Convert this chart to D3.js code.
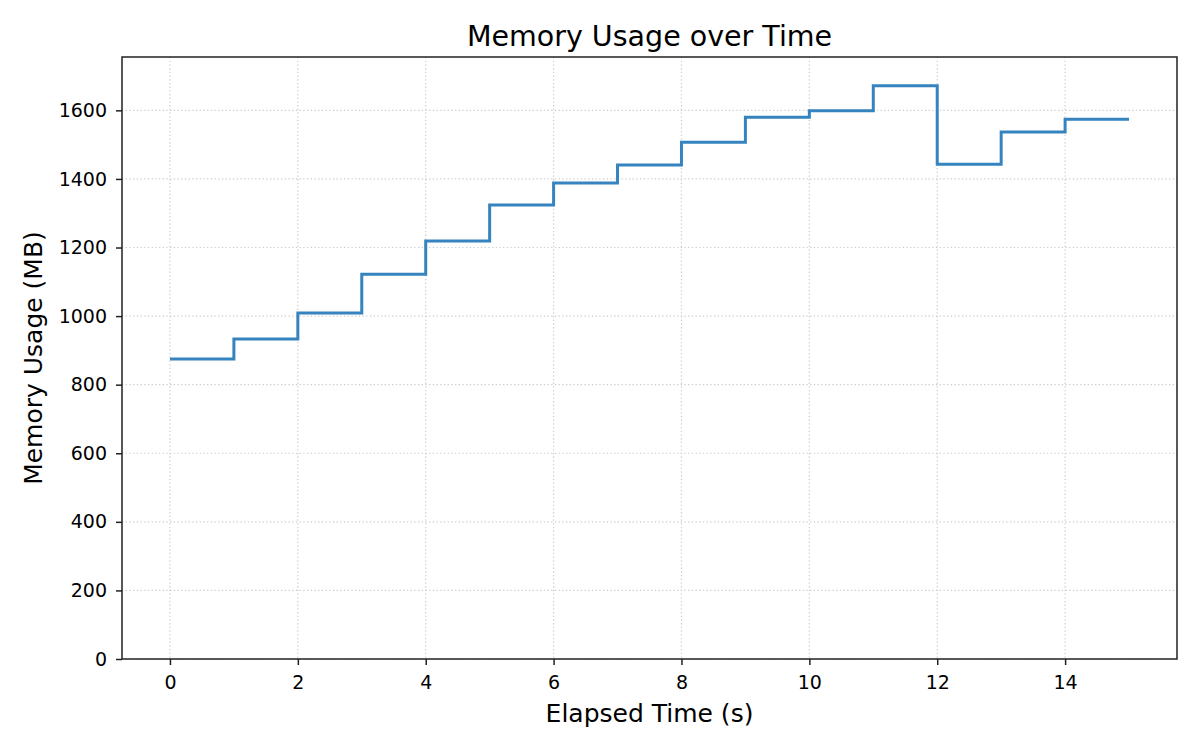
<!DOCTYPE html>
<html>
<head>
<meta charset="utf-8">
<script src="https://cdn.jsdelivr.net/npm/d3@7"></script>
<style>
  body { margin: 0; background: #fff; }
  svg text { font-family: "DejaVu Sans", sans-serif; fill: #000; }
</style>
</head>
<body>
<div id="chart"></div>
<script>
// elapsed seconds and memory readings (MB)
var seconds = [0, 1, 2, 3, 4, 5, 6, 7, 8, 9, 10, 11, 12, 13, 14, 15];
var memoryMB = [875, 933, 1009, 1122, 1219, 1324, 1388, 1441, 1507, 1580, 1599, 1672, 1443, 1537, 1574, 1574];
var xTicks = [0, 2, 4, 6, 8, 10, 12, 14];
var yTicks = [0, 200, 400, 600, 800, 1000, 1200, 1400, 1600];

function main() {
    var W = 1200, H = 750;
    var margin = { top: 57, right: 23, bottom: 91, left: 122 },
        width = W - margin.left - margin.right,
        height = H - margin.top - margin.bottom;

    var svg = d3.select("#chart")
        .append("svg")
        .attr("width", W)
        .attr("height", H);

    var g = svg.append("g")
        .attr("transform", "translate(" + margin.left + "," + margin.top + ")");

    var xPad = (d3.max(seconds) - d3.min(seconds)) * 0.05;
    var x = d3.scaleLinear()
        .domain([d3.min(seconds) - xPad, d3.max(seconds) + xPad])
        .range([0, width]);

    var y = d3.scaleLinear()
        .domain([0, d3.max(memoryMB) * 1.05])
        .range([height, 0]);

    // dotted grid
    g.append("g")
        .selectAll("line")
        .data(xTicks)
        .enter().append("line")
        .attr("x1", d => x(d)).attr("x2", d => x(d))
        .attr("y1", 0).attr("y2", height)
        .attr("stroke", "#cccccc")
        .attr("stroke-width", 1.2)
        .attr("stroke-dasharray", "1.3,2.4");
    g.append("g")
        .selectAll("line")
        .data(yTicks)
        .enter().append("line")
        .attr("x1", 0).attr("x2", width)
        .attr("y1", d => y(d)).attr("y2", d => y(d))
        .attr("stroke", "#cccccc")
        .attr("stroke-width", 1.2)
        .attr("stroke-dasharray", "1.3,2.4");

    // step line, value holds until the next reading
    var pts = seconds.map((s, i) => [s, memoryMB[i]]);
    g.append("path")
        .datum(pts)
        .attr("fill", "none")
        .attr("stroke", "#3584c0")
        .attr("stroke-width", 3)
        .attr("stroke-linejoin", "miter")
        .attr("stroke-linecap", "butt")
        .attr("d", d3.line()
            .x(d => x(d[0]))
            .y(d => y(d[1]))
            .curve(d3.curveStepAfter));

    // axes
    var xAxis = g.append("g")
        .attr("transform", "translate(0," + height + ")")
        .call(d3.axisBottom(x).tickValues(xTicks).tickFormat(d3.format("d"))
            .tickSize(6).tickPadding(11).tickSizeOuter(0));
    var yAxis = g.append("g")
        .call(d3.axisLeft(y).tickValues(yTicks).tickFormat(d3.format("d"))
            .tickSize(6).tickPadding(9).tickSizeOuter(0));

    [xAxis, yAxis].forEach(a => {
        a.select(".domain").remove();
        a.selectAll(".tick line").attr("stroke", "#222").attr("stroke-width", 1.5);
        a.selectAll(".tick text").style("font-size", "19px").attr("fill", "#000");
    });

    // frame
    g.append("rect")
        .attr("x", 0).attr("y", 0)
        .attr("width", width).attr("height", height)
        .attr("fill", "none")
        .attr("stroke", "#222")
        .attr("stroke-width", 1.5);

    // titles
    svg.append("text")
        .attr("x", margin.left + width / 2)
        .attr("y", 46)
        .attr("text-anchor", "middle")
        .style("font-size", "28.5px")
        .text("Memory Usage over Time");

    svg.append("text")
        .attr("x", margin.left + width / 2)
        .attr("y", 722)
        .attr("text-anchor", "middle")
        .style("font-size", "25px")
        .text("Elapsed Time (s)");

    svg.append("text")
        .attr("transform", "translate(42," + (margin.top + height / 2) + ") rotate(-90)")
        .attr("text-anchor", "middle")
        .style("font-size", "25px")
        .text("Memory Usage (MB)");
}

main();
</script>
</body>
</html>
